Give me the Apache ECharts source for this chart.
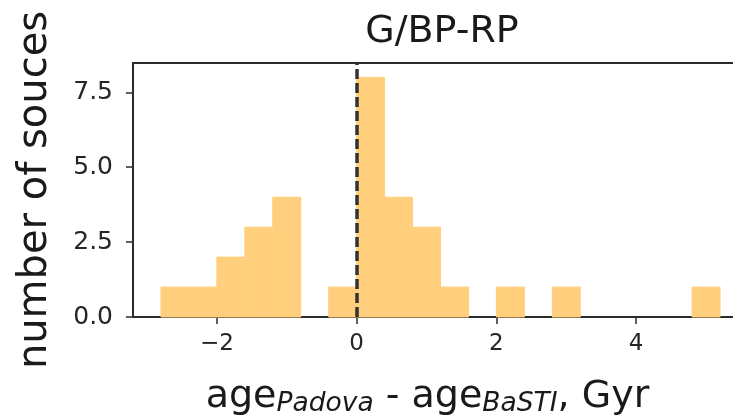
<!DOCTYPE html>
<html>
<head>
<meta charset="utf-8">
<script src="https://cdn.jsdelivr.net/npm/echarts@6/dist/echarts.min.js"></script>
<style>
html,body{margin:0;padding:0;background:#fff;}
#chart{width:733px;height:418px;}
</style>
</head>
<body>
<div id="chart"></div>
<script>
// Histogram bins (left and right edges, Gyr) and counts
const binLeft  = [-2.8, -2.4, -2.0, -1.6, -1.2, -0.8, -0.4, 0.0, 0.4, 0.8, 1.2, 1.6, 2.0, 2.4, 2.8, 3.2, 3.6, 4.0, 4.4, 4.8];
const binRight = [-2.4, -2.0, -1.6, -1.2, -0.8, -0.4, 0.0, 0.4, 0.8, 1.2, 1.6, 2.0, 2.4, 2.8, 3.2, 3.6, 4.0, 4.4, 4.8, 5.2];
const counts   = [1, 1, 2, 3, 4, 0, 1, 8, 4, 3, 1, 0, 1, 0, 1, 0, 0, 0, 0, 1];
const xTicks = [-2, 0, 2, 4];
const yTicks = [0, 2.5, 5.0, 7.5];
const refLine = 0;
const titleText = 'G/BP-RP';
const yName = 'number of souces';

const FONT = 'DejaVu Sans';
const BAR = '#ffcf7d';
const data = binLeft.map((l, i) => [l, binRight[i], counts[i]]);

const chart = echarts.init(document.getElementById('chart'), null, {renderer: 'canvas'});
chart.setOption({
  animation: false,
  backgroundColor: '#ffffff',
  title: {
    text: titleText,
    left: 437,
    textAlign: 'center',
    top: 8,
    textStyle: {fontFamily: FONT, fontSize: 38, fontWeight: 'normal', color: '#1a1a1a'}
  },
  grid: {
    left: 133, right: -15, top: 63, bottom: 101,
    show: true, borderColor: '#2b2b2b', borderWidth: 2, backgroundColor: 'transparent',
    outerBoundsMode: 'none', containLabel: false
  },
  xAxis: {
    type: 'value', min: -3.2, max: 5.6,
    splitLine: {show: false},
    axisLine: {show: false, onZero: false},
    axisTick: {show: true, length: 7, customValues: xTicks, lineStyle: {color: '#2b2b2b', width: 1.5}},
    axisLabel: {customValues: xTicks, margin: 16, fontFamily: FONT, fontSize: 23, color: '#262626',
      formatter: v => (v < 0 ? '\u2212' + Math.abs(v) : String(v))},
    name: '{m|age}{s|Padova}{m| - age}{s|BaSTI}{m|, Gyr}',
    nameLocation: 'middle',
    nameGap: 57,
    nameTextStyle: {
      padding: [0, 26, 0, 0],
      rich: {
        m: {fontFamily: FONT, fontSize: 38, color: '#1a1a1a', lineHeight: 46},
        s: {fontFamily: FONT, fontSize: 26.5, fontStyle: 'italic', color: '#1a1a1a', padding: [15, 0, 0, 0]}
      }
    }
  },
  yAxis: {
    type: 'value', min: 0, max: 8.48,
    splitLine: {show: false},
    axisLine: {show: false, onZero: false},
    axisTick: {show: true, length: 7, customValues: yTicks, lineStyle: {color: '#2b2b2b', width: 1.5}},
    axisLabel: {customValues: yTicks, margin: 20, fontFamily: FONT, fontSize: 25, color: '#262626',
      formatter: v => v.toFixed(1)},
    name: yName,
    nameLocation: 'middle',
    nameGap: 77,
    nameTextStyle: {fontFamily: FONT, fontSize: 40, color: '#1a1a1a'}
  },
  series: [{
    type: 'custom',
    data: data,
    encode: {x: [0, 1], y: 2},
    renderItem: function (params, api) {
      if (!api.value(2)) return null;
      const p0 = api.coord([api.value(0), api.value(2)]);
      const p1 = api.coord([api.value(1), 0]);
      return {
        type: 'rect',
        shape: {x: p0[0], y: p0[1], width: p1[0] - p0[0], height: p1[1] - p0[1]},
        style: {fill: BAR, stroke: BAR, lineWidth: 1}
      };
    },
    markLine: {
      silent: true,
      symbol: ['none', 'none'],
      label: {show: false},
      lineStyle: {color: '#333333', width: 3.5, type: [10, 4]},
      data: [{xAxis: refLine}]
    }
  }]
});
</script>
</body>
</html>
